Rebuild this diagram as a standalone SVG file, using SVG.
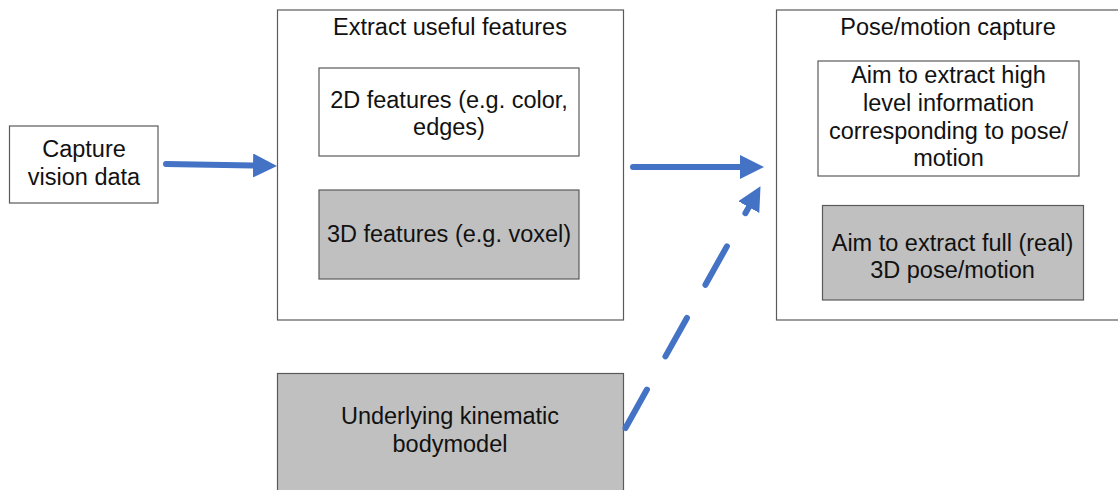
<svg xmlns="http://www.w3.org/2000/svg" width="1118" height="490" viewBox="0 0 1118 490">
<style>
.box{fill:#ffffff;stroke:#5a5a5a;stroke-width:1.2}
.gray{fill:#c0c0c0;stroke:#5a5a5a;stroke-width:1.2}
text{font-family:"Liberation Sans",Arial,sans-serif;font-size:23.5px;fill:#111111;text-anchor:middle}
.conn{fill:none;stroke:#4472c4;stroke-width:6;stroke-linecap:round}
.dash{stroke-dasharray:44 38}
</style>
<defs>
<marker id="head" markerUnits="userSpaceOnUse" viewBox="0 0 24 24" refX="0" refY="12" markerWidth="24" markerHeight="24" orient="auto">
<path d="M0,0 L24,12 L0,24 Z" fill="#4472c4"/>
</marker>
</defs>
<rect width="1118" height="490" fill="#ffffff"/>
<g id="capture">
<rect class="box" x="9.5" y="126" width="148.5" height="77"/>
<text x="84" y="157">Capture</text>
<text x="84" y="185">vision data</text>
</g>
<g id="extract">
<rect class="box" x="277.5" y="10" width="346" height="310"/>
<text x="450" y="35">Extract useful features</text>
</g>
<g id="features2d">
<rect class="box" x="319" y="68" width="260" height="88"/>
<text x="449" y="108">2D features (e.g. color,</text>
<text x="449" y="135">edges)</text>
</g>
<g id="features3d">
<rect class="gray" x="319" y="190" width="260" height="89"/>
<text x="449" y="242">3D features (e.g. voxel)</text>
</g>
<g id="pose">
<rect class="box" x="776.5" y="10" width="346" height="310"/>
<text x="948" y="35">Pose/motion capture</text>
</g>
<g id="highlevel">
<rect class="box" x="818" y="61" width="261" height="115"/>
<text x="948.5" y="83">Aim to extract high</text>
<text x="948.5" y="111">level information</text>
<text x="948.5" y="139">corresponding to pose/</text>
<text x="948.5" y="166">motion</text>
</g>
<g id="full3d">
<rect class="gray" x="822.5" y="205.5" width="261" height="94.5"/>
<text x="952.5" y="251">Aim to extract full (real)</text>
<text x="952.5" y="278">3D pose/motion</text>
</g>
<g id="bodymodel">
<rect class="gray" x="277.5" y="373.5" width="346" height="130"/>
<text x="450" y="424">Underlying kinematic</text>
<text x="450" y="452">bodymodel</text>
</g>
<g id="connectors">
<path class="conn" d="M166,164 L253,165.5" marker-end="url(#head)"/>
<path class="conn" d="M633,167 L740,167" marker-end="url(#head)"/>
<path class="conn dash" d="M625.5,428 L748.8,207.1" marker-end="url(#head)"/>
</g>
</svg>
